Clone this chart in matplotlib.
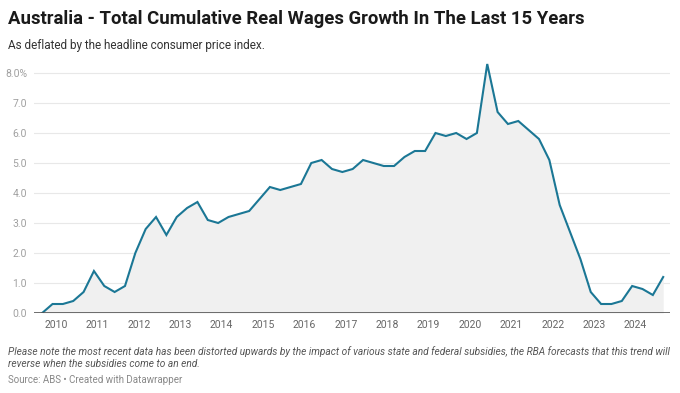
import matplotlib.pyplot as plt
import numpy as np
import pandas as pd

# Quarterly, Sep 2009 .. Sep 2024
quarters = pd.period_range('2009Q3', '2024Q3', freq='Q')
growth = [0.0, 0.3, 0.3, 0.4, 0.7, 1.4, 0.9, 0.7, 0.9, 2.0,
          2.8, 3.2, 2.6, 3.2, 3.5, 3.7, 3.1, 3.0, 3.2, 3.3,
          3.4, 3.8, 4.2, 4.1, 4.2, 4.3, 5.0, 5.1, 4.8, 4.7,
          4.8, 5.1, 5.0, 4.9, 4.9, 5.2, 5.4, 5.4, 6.0, 5.9,
          6.0, 5.8, 6.0, 8.3, 6.7, 6.3, 6.4, 6.1, 5.8, 5.1,
          3.6, 2.7, 1.8, 0.7, 0.3, 0.3, 0.4, 0.9, 0.8, 0.6,
          1.2]
years = list(range(2010, 2025))
yticks = [0, 1, 2, 3, 4, 5, 6, 7, 8]

title = 'Australia - Total Cumulative Real Wages Growth In The Last 15 Years'
subtitle = 'As deflated by the headline consumer price index.'
note = ('Please note the most recent data has been distorted upwards by the impact of '
        'various state and federal subsidies, the RBA forecasts that this trend will\n'
        'reverse when the subsidies come to an end.')
source = 'Source: ABS \u2022 Created with Datawrapper'

plt.rcParams['font.family'] = ['Roboto', 'DejaVu Sans']

x = np.array(quarters.year + (quarters.quarter * 3 - 1) / 12.0)
y = np.array(growth)

W, H = 680, 393
fig = plt.figure(figsize=(W / 100, H / 100), dpi=100)
ax = fig.add_axes([34 / W, (H - 313) / H, (670 - 34) / W, 252 / H])

ax.fill_between(x, y, 0, color='#f0f0f0', lw=0, zorder=1)
ax.plot(x, y, color='#1b7795', lw=1.5, zorder=3, solid_joinstyle='miter')

for t in yticks[1:]:
    ax.axhline(t, color='#e8e8e8', lw=0.8, zorder=0)
ax.axhline(0, color='#555555', lw=1.2, zorder=4)

ax.set_xlim(2009.469, 2024.831)
ax.set_ylim(0, 8.4)
ax.set_xticks(years)
ax.set_xticklabels([str(v) for v in years], color='#666666', fontsize=7.5)
ax.set_yticks(yticks)
ax.set_yticklabels(['%.1f%%' % v if v == 8 else '%.1f' % v for v in yticks],
                   color='#a0a0a0', fontsize=7.5)
ax.tick_params(axis='x', length=0, pad=5)
ax.tick_params(axis='y', length=0, pad=5)
for s in ax.spines.values():
    s.set_visible(False)

fig.text(8 / W, 1 - 19 / H, title, fontsize=13.3, fontweight='bold', va='center', color='#1a1a1a')
fig.text(8 / W, 1 - 45 / H, subtitle, fontsize=8.5, va='center', color='#333333')
fig.text(8 / W, 1 - 358 / H, note, fontsize=7.3, style='italic', va='center',
         color='#555555', linespacing=1.25)
fig.text(8 / W, 1 - 380 / H, source, fontsize=7.0, va='center', color='#888888')

fig.savefig('out.png', dpi=100)
